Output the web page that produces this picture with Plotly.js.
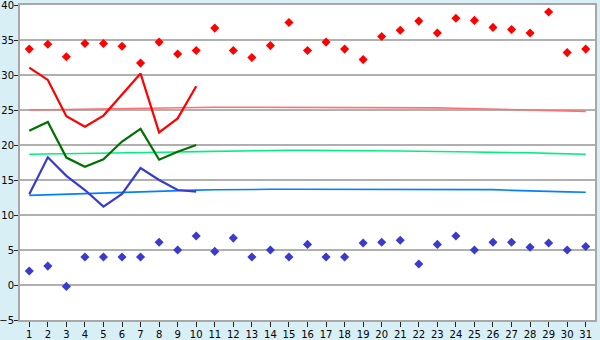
<!DOCTYPE html>
<html><head><meta charset="utf-8">
<script src="https://cdn.plot.ly/plotly-3.0.1.min.js"></script>
<style>html,body{margin:0;padding:0;background:#d9eff6;}</style>
</head><body><div id="chart" style="width:600px;height:340px;"></div>
<script>
const days = [];
for (let d = 1; d <= 31; d++) days.push(d);
const days10 = days.slice(0, 10);

const dailyMax = [33.7,34.4,32.6,34.5,34.5,34.1,31.7,34.7,33.0,33.5,36.7,33.5,32.5,34.2,37.5,33.5,34.7,33.7,32.2,35.5,36.4,37.7,36.0,38.1,37.8,36.8,36.5,36.0,39.0,33.2,33.7];
const dailyMin = [2.0,2.7,-0.2,4.0,4.0,4.0,4.0,6.1,5.0,7.0,4.8,6.7,4.0,5.0,4.0,5.8,4.0,4.0,6.0,6.1,6.4,3.0,5.8,7.0,5.0,6.1,6.1,5.4,6.0,5.0,5.5];
const curMax = [31.05,29.3,24.1,22.6,24.2,27.2,30.2,21.8,23.8,28.4];
const curMean = [22.05,23.3,18.2,16.9,17.95,20.5,22.3,17.9,19.05,20.0];
const curMin = [12.95,18.25,15.6,13.57,11.2,13.0,16.7,15.0,13.57,13.35];
const normMax = [25.0,25.05,25.1,25.15,25.2,25.25,25.3,25.3,25.35,25.4,25.4,25.4,25.4,25.4,25.4,25.4,25.4,25.4,25.4,25.4,25.4,25.38,25.3,25.25,25.2,25.15,25.1,25.0,24.95,24.9,24.8];
const normMean = [18.67,18.7,18.75,18.81,18.85,18.9,18.95,18.98,19.0,19.05,19.1,19.15,19.2,19.24,19.24,19.24,19.24,19.24,19.24,19.2,19.15,19.1,19.1,19.05,19.0,18.95,18.95,18.9,18.81,18.72,18.67];
const normMin = [12.81,12.9,12.95,13.05,13.15,13.25,13.35,13.45,13.5,13.55,13.6,13.65,13.67,13.67,13.67,13.67,13.67,13.67,13.67,13.67,13.67,13.67,13.67,13.67,13.67,13.62,13.52,13.42,13.38,13.3,13.24];
const yTicks = [-5,0,5,10,15,20,25,30,35,40];

const traces = [
  {x: days, y: normMax, mode: 'lines', line: {color: '#ff7070', width: 1.6}},
  {x: days, y: normMean, mode: 'lines', line: {color: '#00f080', width: 1.6}},
  {x: days, y: normMin, mode: 'lines', line: {color: '#0080ff', width: 1.6}},
  {x: days10, y: curMax, mode: 'lines', line: {color: '#ff0000', width: 2.2}},
  {x: days10, y: curMean, mode: 'lines', line: {color: '#007000', width: 2.2}},
  {x: days10, y: curMin, mode: 'lines', line: {color: '#3a3acc', width: 2.2}},
  {x: days, y: dailyMax, mode: 'markers', marker: {symbol: 'diamond', size: 7, color: '#ff0000'}},
  {x: days, y: dailyMin, mode: 'markers', marker: {symbol: 'diamond', size: 7, color: '#3a3acc'}}
];

const layout = {
  width: 600, height: 340,
  margin: {l: 20, r: 5, t: 5, b: 20, pad: 0},
  paper_bgcolor: '#d9eff6',
  plot_bgcolor: '#ffffff',
  showlegend: false,
  font: {family: 'DejaVu Sans, Verdana, sans-serif', size: 10, color: '#000'},
  xaxis: {
    range: [0.5, 31.5], tickmode: 'array', tickvals: days, ticktext: days.map(String),
    showgrid: false, zeroline: false, ticks: 'outside', ticklen: 5, tickcolor: '#222',
    showline: true, linecolor: '#a8a8a8', linewidth: 2, mirror: true,
    ticklabeloverflow: 'allow', ticklabelstandoff: -1,
    fixedrange: true
  },
  yaxis: {
    range: [-5, 40], tickmode: 'array', tickvals: yTicks, ticktext: yTicks.map(v => v < 0 ? '\u2212' + Math.abs(v) : String(v)),
    showgrid: true, gridcolor: '#b0b0b0', gridwidth: 1.5, zeroline: false,
    ticks: 'outside', ticklen: 4, tickcolor: '#222',
    showline: true, linecolor: '#a8a8a8', linewidth: 2, mirror: true,
    ticklabeloverflow: 'allow', ticklabelstandoff: -2,
    fixedrange: true
  }
};

Plotly.newPlot('chart', traces, layout, {staticPlot: true, displayModeBar: false});
</script>
</body></html>
